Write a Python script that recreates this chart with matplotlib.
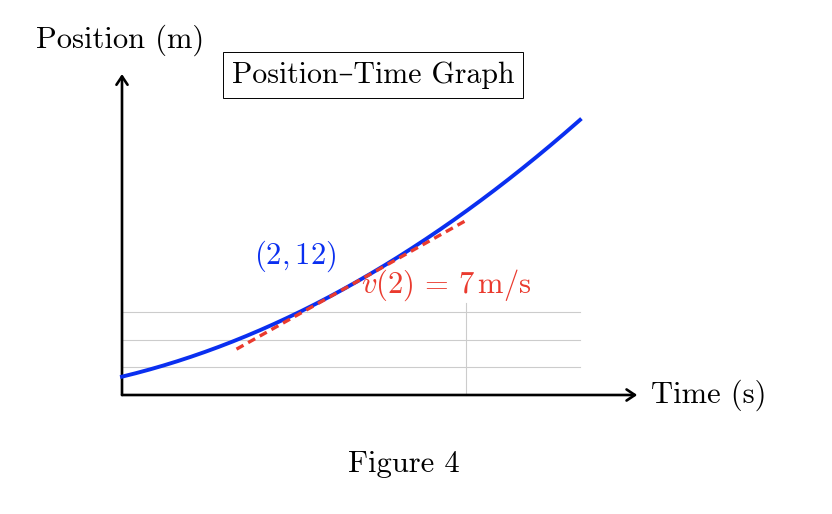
import numpy as np
import matplotlib
matplotlib.use("Agg")
import matplotlib.pyplot as plt

plt.rcParams['font.family'] = ['cmr10', 'DejaVu Serif']
plt.rcParams['mathtext.fontset'] = 'cm'
plt.rcParams['axes.unicode_minus'] = False

t_pts = [0, 1, 2, 3, 4]
pos_pts = [2, 6, 12, 20, 30]
# tangent at t=2 with slope 7
tan_t = [1, 3]
tan_pos = [5, 19]
grid_t = [0, 3]
grid_pos = [3, 6, 9]

blue = '#0a2ff0'
red = '#ea3a2e'
fs = 22

fig = plt.figure(figsize=(8.32, 5.14), dpi=100)
ax = fig.add_axes([0, 0, 1, 1])
ax.set_xlim(-122 / 114.5, (832 - 122) / 114.5)
ax.set_ylim((395 - 514) / 9.17, 395 / 9.17)
ax.axis('off')

# light grid
for g in grid_pos:
    ax.plot([0, 4], [g, g], color='#cccccc', lw=0.8, zorder=1)
for g in grid_t:
    ax.plot([g, g], [0, 10], color='#cccccc', lw=0.8, zorder=1)

# axes with arrows
arr = dict(arrowstyle='->,head_length=0.6,head_width=0.4', color='black', lw=1.9,
           shrinkA=0, shrinkB=0)
ax.annotate('', xy=(4.5, 0), xytext=(0, 0), arrowprops=arr, zorder=3)
ax.annotate('', xy=(0, 35), xytext=(0, 0), arrowprops=arr, zorder=3)

# smooth curve through the read points (quadratic fit of the read values)
coef = np.polyfit(t_pts, pos_pts, 2)
tt = np.linspace(t_pts[0], t_pts[-1], 200)
ax.plot(tt, np.polyval(coef, tt), color=blue, lw=2.8, zorder=4)

ax.plot(tan_t, tan_pos, color=red, lw=2.4, ls=(0, (2.4, 1.6)), zorder=5)

ax.text(4.62, 0, 'Time (s)', fontsize=fs, ha='left', va='center')
ax.text(-0.02, 38.7, 'Position (m)', fontsize=fs, ha='center', va='center')
ax.text(2.19, 34.9, 'Position\u2013Time Graph', fontsize=21.5, ha='center', va='center',
        bbox=dict(boxstyle='square,pad=0.3', fc='white', ec='black', lw=0.7))
ax.text(1.51, 15.1, r'$(2,12)$', color=blue, fontsize=fs, ha='center', va='center')
ax.text(2.83, 12.0, r'$v(2)\,=\,7\,\mathrm{m/s}$', color=red, fontsize=fs,
        ha='center', va='center')
ax.text(2.46, -7.6, 'Figure 4', fontsize=fs, ha='center', va='center')

fig.savefig('out.png', dpi=100)
